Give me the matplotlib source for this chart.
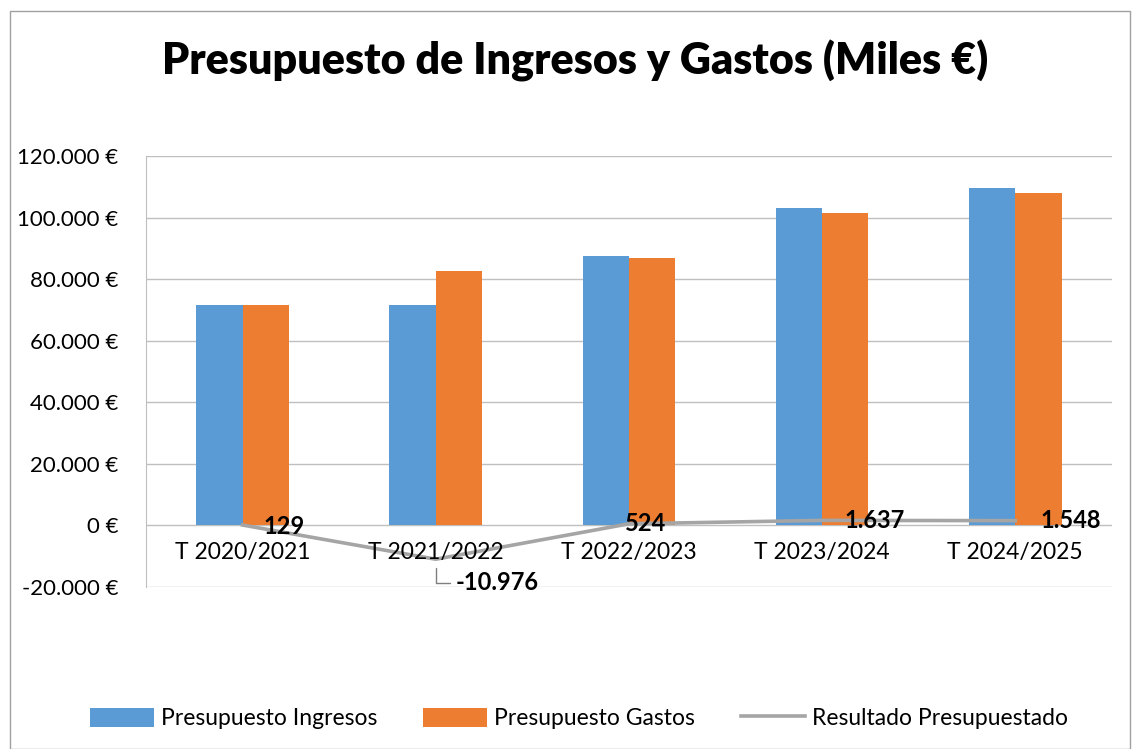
import matplotlib.pyplot as plt
from matplotlib.patches import Rectangle
from matplotlib.ticker import FuncFormatter
import numpy as np

plt.rcParams['font.family'] = ['Lato', 'DejaVu Sans']

# data (miles de euros)
categorias = ['T 2020/2021', 'T 2021/2022', 'T 2022/2023', 'T 2023/2024', 'T 2024/2025']
ingresos = [71600, 71624, 87500, 103100, 109600]
gastos = [71471, 82600, 86976, 101463, 108052]
resultado = [129, -10976, 524, 1637, 1548]
etiquetas = ['129', '-10.976', '524', '1.637', '1.548']

AZUL = '#5b9bd5'
NARANJA = '#ed7d31'
GRIS = '#a5a5a5'

fig = plt.figure(figsize=(11.35, 7.49), dpi=100)
ax = fig.add_axes([0.1286, 0.2163, 0.851, 0.5754])

x = np.arange(len(categorias))
w = 0.24
b1 = ax.bar(x - w / 2, ingresos, w, color=AZUL, label='Presupuesto Ingresos', zorder=2)
b2 = ax.bar(x + w / 2, gastos, w, color=NARANJA, label='Presupuesto Gastos', zorder=2)
l1, = ax.plot(x, resultado, color=GRIS, lw=2.6, label='Resultado Presupuestado', zorder=3)

ax.set_xlim(-0.5, len(categorias) - 0.5)
ax.set_ylim(-20000, 120000)
ax.set_yticks(np.arange(-20000, 120001, 20000))


def eur(v, pos):
    return '{:,.0f} €'.format(v).replace(',', '.')


ax.yaxis.set_major_formatter(FuncFormatter(eur))
ax.tick_params(axis='y', length=0, labelsize=16, pad=20)
ax.set_xticks([])
ax.grid(axis='y', color='#bfbfbf', lw=1, zorder=0)
for s in ['top', 'right', 'bottom']:
    ax.spines[s].set_visible(False)
ax.spines['left'].set_color('#bfbfbf')

# category labels next to the zero line
for i, c in enumerate(categorias):
    ax.annotate(c, (i, 0), xytext=(0, -12), textcoords='offset points',
                ha='center', va='top', fontsize=16.5)

# data labels of the result line
offsets = [(15, -1), (14, -17), (-3, 0), (16, 0), (18, 0)]
for i, (v, t) in enumerate(zip(resultado, etiquetas)):
    dx, dy = offsets[i]
    if i == 1:
        ax.annotate(t, (i, v), xytext=(dx, dy), textcoords='offset points',
                    ha='left', va='center', fontsize=17, fontweight='bold',
                    arrowprops=dict(arrowstyle='-', color='#7f7f7f', lw=1,
                                    shrinkA=2, shrinkB=6,
                                    connectionstyle='angle,angleA=0,angleB=90,rad=0'))
    else:
        ax.annotate(t, (i, v), xytext=(dx, dy), textcoords='offset points',
                    ha='left', va='center', fontsize=17, fontweight='bold')

fig.text(0.507, 0.918, 'Presupuesto de Ingresos y Gastos (Miles €)',
         ha='center', va='center', fontsize=31, fontweight='heavy')

fig.legend([b1, b2, l1], [b1.get_label(), b2.get_label(), l1.get_label()],
           loc='center', bbox_to_anchor=(0.51, 0.041), ncol=3, frameon=False,
           fontsize=16.5, handlelength=2.8, handleheight=0.9, columnspacing=2.0,
           handletextpad=0.3)

# outer chart border
fig.patches.append(Rectangle((0.009, 0.0), 0.987, 0.985, transform=fig.transFigure,
                             fill=False, edgecolor='#a0a0a0', lw=1))

fig.savefig('out.png', dpi=100)
